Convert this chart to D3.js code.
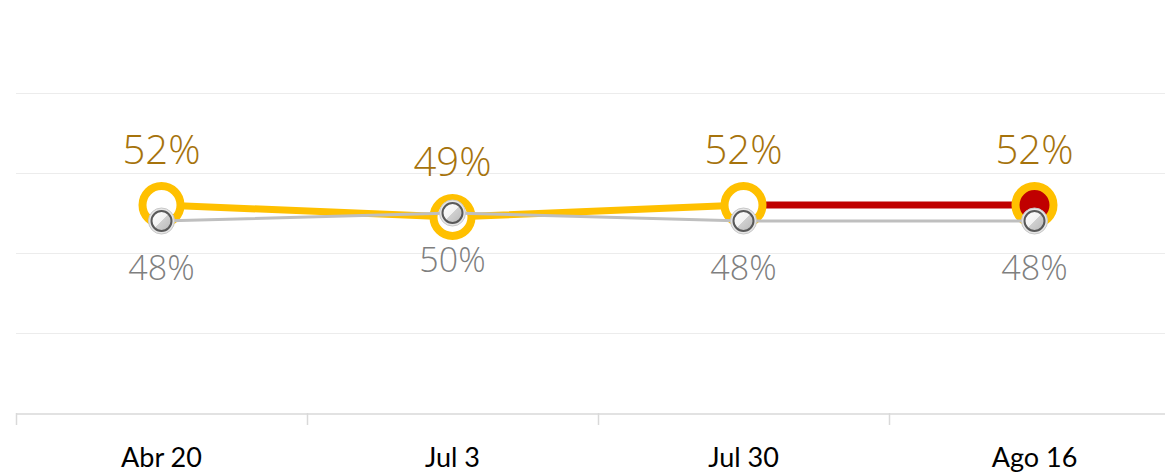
<!DOCTYPE html>
<html>
<head>
<meta charset="utf-8">
<script src="https://cdn.jsdelivr.net/npm/d3@7"></script>
<style>
  body { margin: 0; background: #fff; }
  svg { display: block; }
</style>
</head>
<body>
<svg id="chart"></svg>
<script>
var categories = ["Abr 20", "Jul 3", "Jul 30", "Ago 16"];
var yellowValues = [52, 49, 52, 52];
var greyValues = [48, 50, 48, 48];
var gridTicks = [0, 20, 40, 60, 80];

var width = 1165, height = 472;
var svg = d3.select("#chart")
    .attr("width", width)
    .attr("height", height);

var defs = svg.append("defs");
var grad = defs.append("linearGradient")
    .attr("id", "greyGrad")
    .attr("x1", "0%").attr("y1", "0%")
    .attr("x2", "100%").attr("y2", "100%");
grad.append("stop").attr("offset", "0%").attr("stop-color", "#ffffff");
grad.append("stop").attr("offset", "50%").attr("stop-color", "#f2f2f2");
grad.append("stop").attr("offset", "50%").attr("stop-color", "#d0d0d0");
grad.append("stop").attr("offset", "100%").attr("stop-color", "#b8b8b8");

var x = d3.scaleBand()
    .domain(categories)
    .range([16, 1180]);

var y = d3.scaleLinear()
    .domain([0, 100])
    .range([413, 13]);

var cx = d => x(d) + x.bandwidth() / 2;

// gridlines
svg.append("g")
    .selectAll("line")
    .data(gridTicks.slice(1))
    .join("line")
    .attr("x1", 16).attr("x2", width)
    .attr("y1", d => y(d) + 0.5).attr("y2", d => y(d) + 0.5)
    .attr("stroke", "#ececec")
    .attr("stroke-width", 1);

// x axis
var xAxis = g => g
    .attr("transform", "translate(0," + (y(0) + 0.5) + ")")
    .call(d3.axisBottom(x).tickSize(0).tickPadding(34))
    .call(g => g.select(".domain").attr("stroke", "#d9d9d9").attr("stroke-width", 1.5))
    .call(g => g.selectAll(".tick text")
        .attr("font-family", "Lato, 'Open Sans', sans-serif")
        .attr("font-size", 27)
        .attr("fill", "#000"));
svg.append("g").call(xAxis);

// band boundary ticks
svg.append("g")
    .selectAll("line")
    .data(categories)
    .join("line")
    .attr("x1", d => x(d) + 0.5).attr("x2", d => x(d) + 0.5)
    .attr("y1", y(0)).attr("y2", y(0) + 12)
    .attr("stroke", "#d9d9d9")
    .attr("stroke-width", 1.5);

var yellowData = categories.map((c, i) => ({ cat: c, v: yellowValues[i] }));
var greyData = categories.map((c, i) => ({ cat: c, v: greyValues[i] }));

var line = d3.line()
    .x(d => cx(d.cat))
    .y(d => y(d.v));

// yellow line (up to Jul 30)
svg.append("path")
    .datum(yellowData.slice(0, 3))
    .attr("fill", "none")
    .attr("stroke", "#ffc000")
    .attr("stroke-width", 7)
    .attr("d", line);

// red line (Jul 30 -> Ago 16)
svg.append("path")
    .datum(yellowData.slice(2))
    .attr("fill", "none")
    .attr("stroke", "#c00000")
    .attr("stroke-width", 7)
    .attr("d", line);

// yellow circles
svg.append("g")
    .selectAll("circle")
    .data(yellowData)
    .join("circle")
    .attr("cx", d => cx(d.cat))
    .attr("cy", d => y(d.v))
    .attr("r", 19)
    .attr("fill", (d, i) => i == yellowData.length - 1 ? "#c00000" : "#fff")
    .attr("stroke", "#ffc000")
    .attr("stroke-width", 8);

// grey line
svg.append("path")
    .datum(greyData)
    .attr("fill", "none")
    .attr("stroke", "#bfbfbf")
    .attr("stroke-width", 3)
    .attr("d", line);

// grey circles
var gc = svg.append("g")
    .selectAll("g")
    .data(greyData)
    .join("g")
    .attr("transform", d => "translate(" + cx(d.cat) + "," + y(d.v) + ")");
gc.append("circle")
    .attr("r", 13)
    .attr("fill", "#e6e6e6")
    .attr("stroke", "#c8c8c8")
    .attr("stroke-width", 1);
gc.append("circle")
    .attr("r", 10)
    .attr("fill", "url(#greyGrad)")
    .attr("stroke", "#595959")
    .attr("stroke-width", 2);

// labels
svg.append("g")
    .selectAll("text")
    .data(yellowData)
    .join("text")
    .attr("x", d => cx(d.cat))
    .attr("y", d => y(d.v) - 41)
    .attr("text-anchor", "middle")
    .attr("font-family", "'Open Sans', Lato, sans-serif")
    .attr("font-weight", 300)
    .attr("font-size", 40)
    .attr("fill", "#a6730c")
    .text(d => d.v + "%");

svg.append("g")
    .selectAll("text")
    .data(greyData)
    .join("text")
    .attr("x", d => cx(d.cat))
    .attr("y", d => y(d.v) + 59)
    .attr("text-anchor", "middle")
    .attr("font-family", "'Open Sans', Lato, sans-serif")
    .attr("font-weight", 300)
    .attr("font-size", 34)
    .attr("fill", "#7f7f7f")
    .text(d => d.v + "%");
</script>
</body>
</html>
